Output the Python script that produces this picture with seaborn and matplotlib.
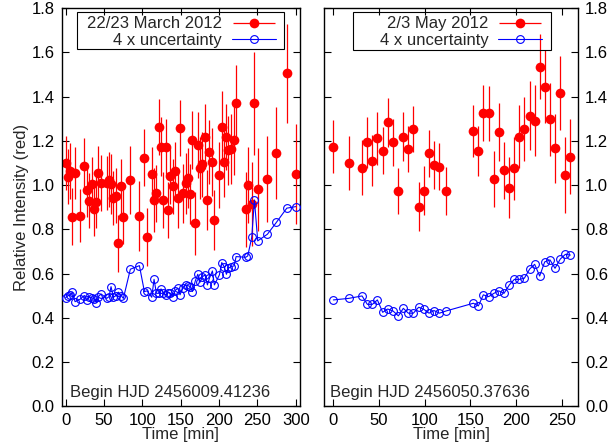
import matplotlib
matplotlib.use("Agg")
import matplotlib.pyplot as plt
from matplotlib.patches import Rectangle
from matplotlib.legend_handler import HandlerErrorbar
import numpy as np
import seaborn as sns

# ---- data ----
# 22/23 March 2012 (left panel)
t_mar = [0, 2.6, 5.7, 8.7, 12.2, 18.7, 24.3, 27.4, 30.4, 33.9, 37.0, 40.0, 42.6, 46.1,
         53.5, 56.5, 59.1, 62.2, 65.7, 68.7, 72.2, 75.2, 84.3, 96.1, 102.6, 106.1,
         112.2, 115.2, 118.3, 121.7, 124.3, 127.4, 130.9, 133.9, 136.5, 139.6, 142.6,
         146.1, 149.1, 152.6, 156.5, 159.1, 162.6, 165.2, 169.1, 172.2, 175.2, 178.3,
         181.7, 184.8, 187.4, 191.3, 193.9, 200.4, 203.5, 206.5, 209.6, 212.2, 215.7,
         219.6, 222.2, 234.8, 237.4, 242.6, 246.1, 250.4, 263.0, 274.8, 288.3, 300.0]
rel_mar = [1.099, 1.039, 1.064, 0.858, 1.054, 0.862, 1.088, 0.978, 0.930, 1.006, 0.892,
           0.923, 1.054, 1.009, 1.009, 1.024, 1.006, 0.941, 0.953, 0.737, 0.994, 0.855,
           1.024, 0.861, 1.125, 0.767, 1.051, 0.933, 0.963, 1.262, 1.174, 0.933, 1.174,
           0.888, 1.042, 0.994, 1.066, 0.941, 1.257, 0.963, 1.009, 1.031, 0.960, 1.205,
           0.828, 1.182, 1.079, 1.095, 1.220, 0.933, 1.149, 1.104, 0.843, 1.046, 1.265,
           1.104, 1.220, 1.159, 1.164, 1.205, 1.373, 0.891, 1.001, 0.914, 1.370, 0.981,
           1.027, 1.144, 1.506, 1.049]
unc4_mar = [0.491, 0.499, 0.504, 0.516, 0.473, 0.484, 0.501, 0.481, 0.496, 0.491, 0.485,
            0.469, 0.496, 0.508, 0.488, 0.496, 0.541, 0.493, 0.501, 0.516, 0.501, 0.488,
            0.620, 0.636, 0.519, 0.522, 0.493, 0.574, 0.511, 0.511, 0.531, 0.511, 0.504,
            0.514, 0.511, 0.496, 0.523, 0.534, 0.504, 0.537, 0.549, 0.546, 0.541, 0.519,
            0.568, 0.597, 0.561, 0.586, 0.594, 0.549, 0.579, 0.612, 0.549, 0.594, 0.650,
            0.632, 0.597, 0.624, 0.632, 0.635, 0.677, 0.674, 0.680, 0.764, 0.933, 0.748,
            0.778, 0.832, 0.896, 0.903]

# 2/3 May 2012 (right panel)
t_may = [0, 16.8, 31.4, 37.2, 42.7, 48.2, 54.0, 59.5, 65.3, 71.2, 76.6, 82.1, 87.6,
         93.4, 98.9, 104.7, 110.2, 116.1, 123.4, 153.3, 158.8, 164.2, 170.1, 175.9,
         181.0, 186.9, 192.7, 198.2, 203.6, 209.1, 215.0, 220.4, 225.9, 231.4, 237.2,
         242.7, 248.5, 254.0, 259.5]
rel_may = [1.174, 1.099, 1.079, 1.194, 1.111, 1.212, 1.155, 1.284, 1.193, 0.974, 1.220,
           1.164, 1.254, 0.903, 0.975, 1.144, 1.092, 1.084, 0.974, 1.245, 1.156, 1.325,
           1.325, 1.028, 1.242, 1.067, 0.989, 1.076, 1.220, 1.254, 1.315, 1.291, 1.536,
           1.446, 1.298, 1.167, 1.416, 1.046, 1.129]
unc4_may = [0.481, 0.488, 0.499, 0.461, 0.461, 0.481, 0.425, 0.440, 0.431, 0.409, 0.443,
            0.421, 0.421, 0.448, 0.439, 0.421, 0.433, 0.421, 0.431, 0.466, 0.454, 0.504,
            0.496, 0.511, 0.522, 0.511, 0.549, 0.574, 0.574, 0.579, 0.621, 0.642, 0.589,
            0.653, 0.662, 0.624, 0.666, 0.687, 0.684]

labels = ["22/23 March 2012", "2/3 May 2012"]
begin_hjd = ["Begin HJD 2456009.41236", "Begin HJD 2456050.37636"]

sns.set_style("ticks")
plt.rcParams["font.family"] = ["Liberation Sans", "DejaVu Sans"]
FS = 12

fig = plt.figure(figsize=(6.16, 4.42), dpi=100)
ax1 = fig.add_axes([0.1002, 0.0808, 0.3869, 0.9005])
ax2 = fig.add_axes([0.5265, 0.0808, 0.4123, 0.9005])

panels = [
    (ax1, t_mar, rel_mar, unc4_mar, (-5.2, 305.6), 0.035, (0.063, 0.897, 0.868, 0.094), 0.897),
    (ax2, t_may, rel_may, unc4_may, (-9.9, 268.2), 0.022, (0.112, 0.894, 0.7805, 0.0965), 0.856),
]

for i, (ax, t, rel, unc4, xlim, tx, box, leg_x) in enumerate(panels):
    yerr = np.array(unc4) / 4.0  # blue curve is 4 x the error bar size
    ax.errorbar(t, rel, yerr=yerr, fmt="o", color="red", ms=7.0, mew=0,
                elinewidth=0.9, capsize=1.8, capthick=0.9, zorder=2)
    sns.lineplot(x=t, y=unc4, ax=ax, color="blue", marker="o", markersize=5.6,
                 markerfacecolor="none", markeredgecolor="blue", markeredgewidth=0.8,
                 linewidth=0.8, sort=False, estimator=None, zorder=3)
    blue = ax.lines[-1]

    # proxy artist so the key shows a horizontal error bar like the original
    proxy = ax.errorbar([np.nan], [np.nan], xerr=[1.0], fmt="o", color="red", ms=7.0,
                        mew=0, elinewidth=0.9, capsize=2.4, capthick=0.9)
    ax.legend(handles=[proxy, blue], labels=[labels[i], "4 x uncertainty"],
              loc="center right", bbox_to_anchor=(leg_x, 0.940), frameon=False,
              markerfirst=False, handlelength=2.6, handletextpad=0.6, borderpad=0,
              borderaxespad=0, labelspacing=0.08, fontsize=FS,
              handler_map={proxy: HandlerErrorbar(xerr_size=1.28)})
    ax.add_patch(Rectangle((box[0], box[1]), box[2], box[3], transform=ax.transAxes,
                           fill=False, ec="black", lw=0.8, zorder=5))

    ax.text(tx, 0.024, begin_hjd[i], transform=ax.transAxes, fontsize=FS,
            ha="left", va="baseline")

    ax.set_xlim(*xlim)
    ax.set_ylim(0, 1.8)
    ax.set_xticks(np.arange(0, xlim[1], 50))
    ax.set_yticks(np.arange(0, 1.81, 0.2))
    ax.yaxis.set_major_formatter(matplotlib.ticker.FormatStrFormatter("%.1f"))
    ax.tick_params(direction="in", length=5, width=0.8, top=True, right=True,
                   labelsize=FS, pad=5, colors="black")
    ax.set_xlabel("Time [min]", fontsize=FS, labelpad=-1)
    ax.set_ylabel("")
    for s in ax.spines.values():
        s.set_visible(True)
        s.set_linewidth(1.0)
        s.set_color("black")

ax1.set_ylabel("Relative Intensity (red)", fontsize=FS, labelpad=2)
ax2.tick_params(labelleft=False, labelright=True)

fig.savefig("out.png", dpi=100)
